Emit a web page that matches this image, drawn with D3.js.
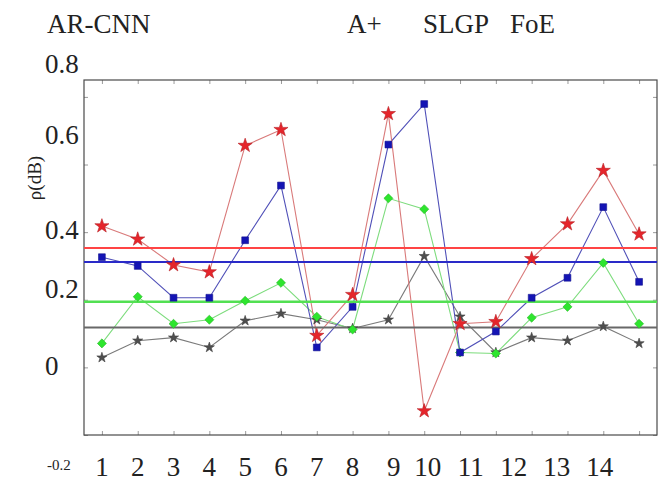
<!DOCTYPE html>
<html>
<head>
<meta charset="utf-8">
<script src="https://cdn.jsdelivr.net/npm/d3@7"></script>
<style>
  body { margin: 0; background: #fff; }
  svg text { font-family: "Liberation Serif", "DejaVu Serif", "Times New Roman", serif; fill: #222; }
</style>
</head>
<body>
<div class="chart"></div>
<script>
const xIndex = d3.range(1, 17);

const redVals   = [0.418, 0.379, 0.303, 0.282, 0.656, 0.703, 0.094, 0.215, 0.750, -0.129, 0.129, 0.135, 0.321, 0.424, 0.582, 0.394];
const blueVals  = [0.326, 0.300, 0.206, 0.206, 0.376, 0.538, 0.059, 0.179, 0.659, 0.779, 0.044, 0.106, 0.206, 0.265, 0.474, 0.253];
const greenVals = [0.071, 0.209, 0.129, 0.141, 0.197, 0.250, 0.150, 0.112, 0.500, 0.468, 0.044, 0.041, 0.147, 0.179, 0.309, 0.129];
const grayVals  = [0.029, 0.079, 0.088, 0.059, 0.138, 0.159, 0.141, 0.115, 0.141, 0.329, 0.150, 0.044, 0.088, 0.079, 0.121, 0.071];

// horizontal reference levels
const meanVals = [0.353, 0.312, 0.194, 0.118];

const legendNames = ["AR-CNN", "A+", "SLGP", "FoE"];
const yTickVals = [0.8, 0.6, 0.4, 0.2, 0, -0.2];
const xTickLabels = ["1", "2", "3", "4", "5", "6", "7", "8", "9", "10", "11", "12", "13", "14"];
const xTickLabelAt = [1, 2, 3, 4, 5, 6, 7, 8, 9.15, 10.1, 11.3, 12.5, 13.7, 14.9];

const W = 668, H = 481;
const box = {left: 84, right: 657, top: 80, bottom: 435};
const serif = "Liberation Serif, DejaVu Serif, Times New Roman, serif";

const svg = d3.select('.chart').append('svg')
  .attr('width', W).attr('height', H)
  .attr('font-family', serif);

const x = d3.scaleLinear().domain([0.5, 16.5]).range([box.left, box.right]);
const y = d3.scaleLinear().domain([-0.2, 0.85]).range([box.bottom, box.top]);

const series = [
  {vals: grayVals,  line: "#7a7a7a", fill: "#4e4e4e", mean: "#686868", sym: d3.symbolStar,     size: 32, mw: 2},
  {vals: greenVals, line: "#7ddc7d", fill: "#2ee52e", mean: "#52e052", sym: d3.symbolDiamond2, size: 52, mw: 2.5},
  {vals: blueVals,  line: "#5050b8", fill: "#1414b4", mean: "#2a2ac8", sym: d3.symbolSquare,   size: 46, mw: 2},
  {vals: redVals,   line: "#d97a7a", fill: "#e5252b", mean: "#ff4444", sym: d3.symbolStar,     size: 62, mw: 2}
];
const meanOrder = [3, 2, 1, 0]; // red, blue, green, gray

// ticks, all pointing inward
svg.append('g').attr('transform', `translate(${box.left},0)`)
  .call(d3.axisRight(y).tickValues(yTickVals).tickSize(4).tickFormat(''));
svg.append('g').attr('transform', `translate(${box.right},0)`)
  .call(d3.axisLeft(y).tickValues(yTickVals).tickSize(4).tickFormat(''));
svg.append('g').attr('transform', `translate(0,${box.top})`)
  .call(d3.axisBottom(x).tickValues(xIndex).tickSize(4).tickFormat(''));
svg.append('g').attr('transform', `translate(0,${box.bottom})`)
  .call(d3.axisTop(x).tickValues(xIndex).tickSize(4).tickFormat(''));
svg.selectAll('.domain').remove();
svg.selectAll('.tick line').attr('stroke', '#9a9a9a');

svg.append('rect')
  .attr('x', box.left).attr('y', box.top)
  .attr('width', box.right - box.left).attr('height', box.bottom - box.top)
  .attr('fill', 'none').attr('stroke', '#4a4a4a').attr('stroke-width', 1.2);

const line = d3.line().x((d, i) => x(xIndex[i])).y(d => y(d));

series.forEach(s => {
  svg.append('path')
    .attr('d', line(s.vals))
    .attr('fill', 'none')
    .attr('stroke', s.line)
    .attr('stroke-width', 1.1);
});

meanOrder.forEach((k, i) => {
  const s = series[k];
  svg.append('line')
    .attr('x1', box.left).attr('x2', box.right)
    .attr('y1', y(meanVals[i])).attr('y2', y(meanVals[i]))
    .attr('stroke', s.mean)
    .attr('stroke-width', s.mw);
});

series.forEach(s => {
  svg.append('g').selectAll('path')
    .data(s.vals)
    .join('path')
      .attr('transform', (d, i) => `translate(${x(xIndex[i])},${y(d)})`)
      .attr('d', d3.symbol().type(s.sym).size(s.size))
      .attr('fill', s.fill)
      .attr('stroke', d3.color(s.fill).darker(0.6))
      .attr('stroke-width', 0.6);
});

// y tick labels (the figure's labels sit loosely next to their ticks)
const yLabelShift = {"0.8": -24, "0.6": -21, "0.4": 7, "0.2": -2, "0": 8, "-0.2": 35};
svg.append('g').selectAll('text')
  .data(yTickVals)
  .join('text')
    .attr('x', d => d === -0.2 ? 47 : 45)
    .attr('y', d => y(d) + yLabelShift[String(d)])
    .attr('font-size', d => d === -0.2 ? '15px' : '27px')
    .text(d => String(d));

svg.append('g').selectAll('text')
  .data(xTickLabels)
  .join('text')
    .attr('x', (d, i) => x(xTickLabelAt[i]))
    .attr('y', 476)
    .attr('text-anchor', 'middle')
    .attr('font-size', '27px')
    .text(d => d);

// legend names across the top
const legendX = [47, 347, 423, 510];
svg.append('g').selectAll('text')
  .data(legendNames)
  .join('text')
    .attr('x', (d, i) => legendX[i])
    .attr('y', 33)
    .attr('font-size', '27px')
    .text(d => d);

svg.append('text')
  .attr('transform', 'translate(41,178) rotate(-90)')
  .attr('text-anchor', 'middle')
  .attr('font-size', '19px')
  .text('ρ(dB)');
</script>
</body>
</html>
